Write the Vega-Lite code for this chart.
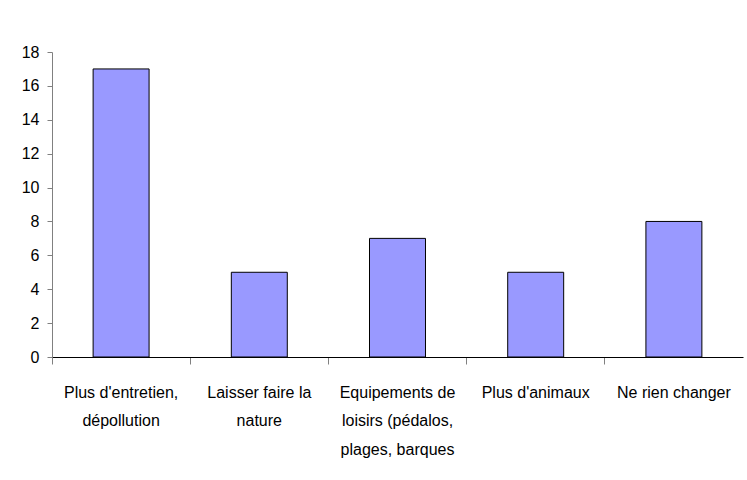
{
  "$schema": "https://vega.github.io/schema/vega-lite/v6.json",
  "width": 691,
  "height": 305,
  "autosize": "none",
  "padding": {"left": 52, "top": 52, "right": 4, "bottom": 123},
  "background": "white",
  "data": {
    "values": [
      {"cat": "Plus d'entretien,\ndépollution", "n": 17},
      {"cat": "Laisser faire la\nnature", "n": 5},
      {"cat": "Equipements de\nloisirs (pédalos,\nplages, barques", "n": 7},
      {"cat": "Plus d'animaux", "n": 5},
      {"cat": "Ne rien changer", "n": 8}
    ]
  },
  "mark": {"type": "bar", "fill": "#9999FF", "stroke": "#000000", "strokeWidth": 1, "width": {"band": 0.405}},
  "encoding": {
    "x": {
      "field": "cat",
      "type": "nominal",
      "sort": null,
      "scale": {"paddingInner": 0, "paddingOuter": 0},
      "axis": {
        "title": null,
        "labelAngle": 0,
        "labelExpr": "split(datum.value, '\\n')",
        "bandPosition": 0,
        "labelAlign": "center",
        "labelBaseline": "top",
        "labelPadding": 20,
        "labelLineHeight": 28.5,
        "tickSize": 7,
        "tickColor": "#808080",
        "domainColor": "#000000",
        "labelFont": "Liberation Sans, Arial, sans-serif",
        "labelFontSize": 16,
        "labelColor": "#000000",
        "labelBound": false,
        "labelOverlap": false,
        "labelLimit": 0
      }
    },
    "y": {
      "field": "n",
      "type": "quantitative",
      "scale": {"domain": [0, 18], "nice": false},
      "axis": {
        "title": null,
        "values": [0, 2, 4, 6, 8, 10, 12, 14, 16, 18],
        "grid": false,
        "tickSize": 5,
        "tickColor": "#808080",
        "domainColor": "#808080",
        "labelPadding": 8,
        "labelFont": "Liberation Sans, Arial, sans-serif",
        "labelFontSize": 16,
        "labelColor": "#000000"
      }
    }
  },
  "config": {"view": {"stroke": null}}
}
